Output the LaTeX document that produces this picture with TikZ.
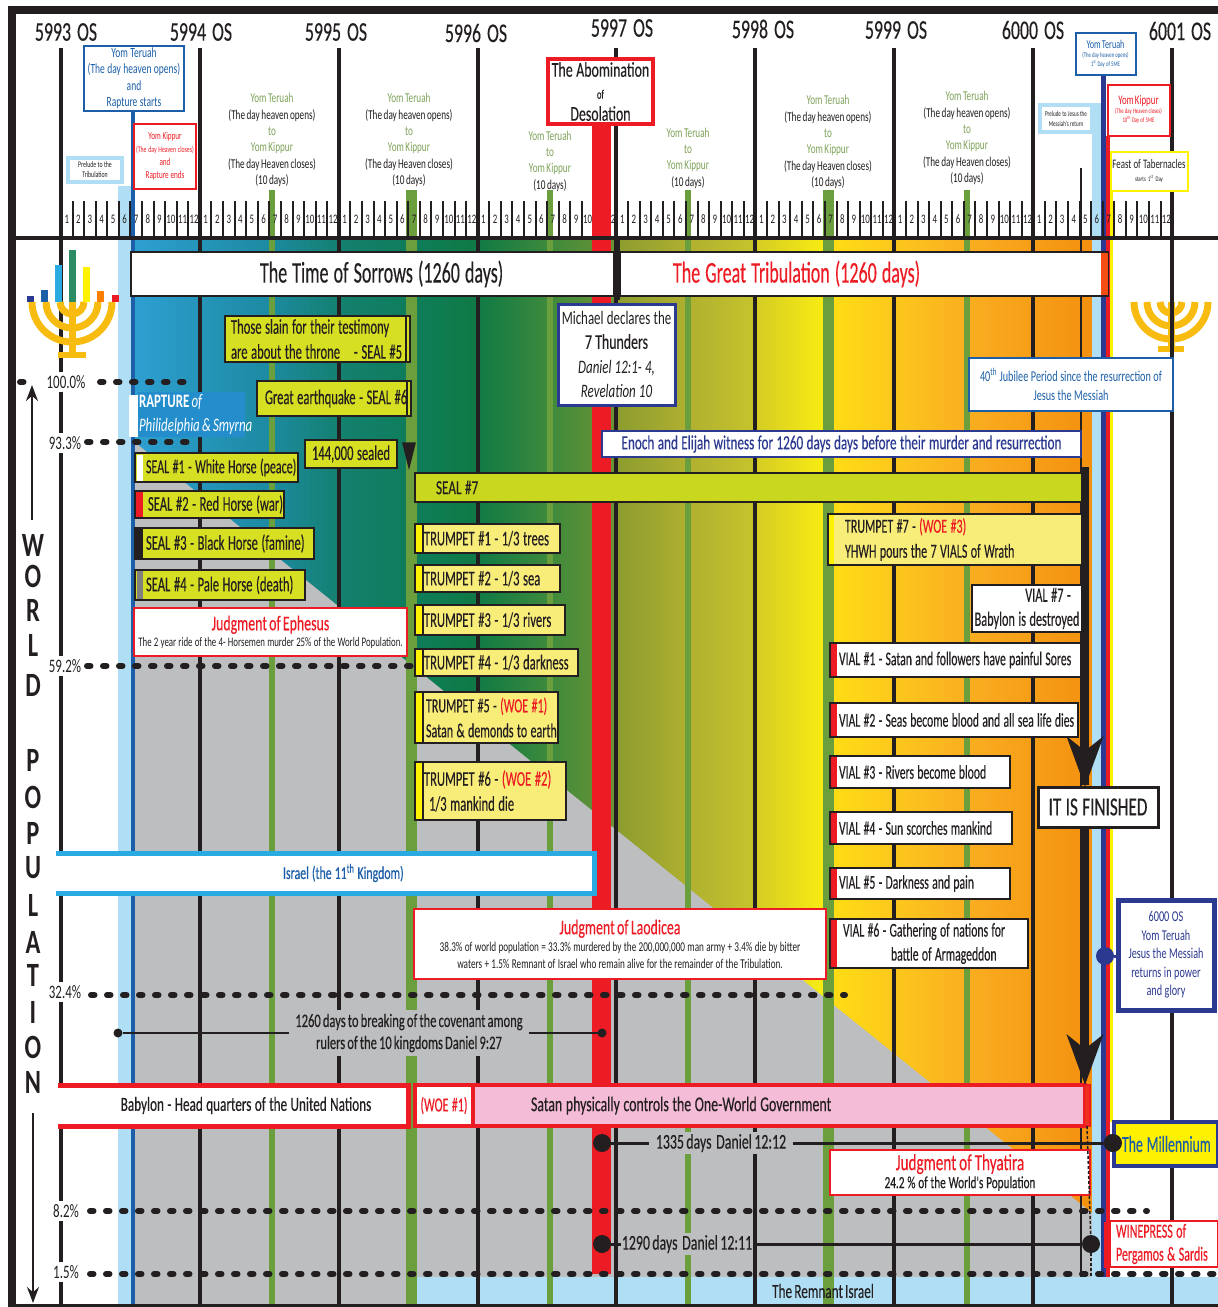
\documentclass[tikz,border=0pt]{standalone}
\usepackage{fontspec}
\setmainfont[FakeStretch=0.68,WordSpace=0.75]{Carlito}
\newfontfamily\midfont[FakeStretch=0.66,FakeBold=0.25,WordSpace=0.75]{Carlito}
\newfontfamily\narrowfont[FakeStretch=0.6,FakeBold=0.25,WordSpace=0.75]{Carlito}
\newfontfamily\letterfont[FakeStretch=0.72]{Carlito}
\usetikzlibrary{arrows.meta}
\newcommand{\fs}[2]{\fontsize{#1}{#2}\selectfont}
\newcommand{\ind}[1]{\hspace*{#1pt}}
\definecolor{wred}{HTML}{ED1C24}
\definecolor{wnavy}{HTML}{2B3990}
\definecolor{wblue}{HTML}{1C5FA8}
\definecolor{wsky}{HTML}{B0DFF5}
\definecolor{wcyan}{HTML}{29ABE2}
\definecolor{wgreen}{HTML}{6B9E3C}
\definecolor{wtext}{HTML}{7EA35A}
\definecolor{wgray}{HTML}{BCBEC0}
\definecolor{wseal}{HTML}{D7DF23}
\definecolor{wseven}{HTML}{C9D81F}
\definecolor{wpale}{HTML}{F9ED7A}
\definecolor{wpink}{HTML}{F4BCD6}
\definecolor{wyellow}{HTML}{FFF200}
\definecolor{wgold}{HTML}{F7BC0F}
\definecolor{wblack}{HTML}{231F20}
\tikzset{
  font={\fs{13.5}{16.3}},
  txt/.style={inner sep=0pt,outer sep=0pt,align=center,text=wblack},
  yearlabel/.style={txt,font=\midfont\fs{27}{27}},
  pctlabel/.style={txt,fill=white,inner xsep=1pt,inner ysep=3pt,font=\fs{19}{19}},
  letter/.style={txt,font=\letterfont\fs{34}{34}\bfseries},
  bx/.style 2 args={anchor=north west,minimum width=#1,minimum height=#2,text width=#1,
    inner xsep=0pt,inner ysep=0pt,outer sep=0pt,align=center,fill=white,text=wblack,
    execute at begin node={\spaceskip=0.17em\relax\xspaceskip=0.17em\relax}},
  sealbox/.style 2 args={bx={#1}{#2},draw=wblack,line width=2pt,fill=wseal,align=left,font=\narrowfont\fs{21}{23}},
  trumpetbox/.style 2 args={bx={#1}{#2},draw=wblack,line width=2pt,fill=wpale,align=left,font=\narrowfont\fs{21}{25}},
  vialbox/.style 2 args={bx={#1}{#2},draw=wblack,line width=2pt,align=left,font=\narrowfont\fs{19.5}{24}},
  redbox/.style 2 args={bx={#1}{#2},draw=wred,line width=2pt},
  navybox/.style 2 args={bx={#1}{#2},draw=wnavy,line width=3pt},
  popdots/.style={line width=6pt,line cap=round,dash pattern=on 3.5pt off 12.5pt,wblack},
  yearline/.style={line width=4pt,wblack},
  tickline/.style={line width=2pt,wblack},
  spot/.style={circle,fill=wblack,minimum size=#1,inner sep=0pt,outer sep=0pt},
}
\begin{document}
\begin{tikzpicture}[x=1pt,y=-1pt]
\useasboundingbox (0,0) rectangle (1218,1307);
\fill[white] (0,0) rectangle (1218,1307);
%% The coloured field, left to right
\foreach \xa/\xb/\ca/\cb in {132/272/2E9FD2/1C8AA0,272/339/1C8AA0/14806F,339/411/14806F/0E7D5A,
  411/477/0E7D5A/0F7A45,477/550/0F7A45/3E8A3C,550/616/3E8A3C/6E9434,616/688/8B9C2E/B0B030,
  688/755/B0B030/C6C42C,755/828/D4CC24/FBEE12,828/894/FFDE14/FCC81C,894/967/FCC81C/FAAE20,
  967/1092/FAAE20/F3900F}{
  \definecolor{cola}{HTML}{\ca}
  \definecolor{colb}{HTML}{\cb}
  \shade[left color=cola,right color=colb] (\xa,240) rectangle (\xb+0.5,1304);
}
%% The gray falls below the diagonal
\fill[wgray] (132,440) -- (1092,1213) -- (1092,1304) -- (132,1304) -- cycle;
\fill[wsky] (415,1277) rectangle (1218,1304);
%% Strips at both ends of the tribulation
\fill[wsky] (118,186) rectangle (131,1304);
\fill[wsky] (1092,103) rectangle (1102,1277);
\fill[wblue] (131,112) rectangle (135,1304);
\fill[wyellow] (1109,165) rectangle (1113,1122);
\fill[wnavy] (1101,75) rectangle (1106,1277);
\fill[wred] (1106,136) rectangle (1110,1277);
%% Green lines for the seventh month
\foreach \x/\w in {272/6,411/11,550/6,688/6,828/11,967/6}
  \draw[wgreen,line width=\w pt] (\x,190) -- (\x,1304);
%% The months
\foreach \y in {0,...,7}{
  \foreach \m in {1,...,11}
    \draw[tickline] (61+\y*138.9+\m*11.575,201) -- (61+\y*138.9+\m*11.575,238);
  \foreach \m in {1,...,12}
    \node[txt,font=\fs{13}{13}] at (61+\y*138.9+\m*11.575-5.8,219) {\m};
}
%% The years
\foreach \x in {61,199.5,339,477.5,616,755,894,1033,1172}
  \draw[yearline] (\x,48) -- (\x,1304);
\draw[line width=2pt,wblack] (1081,168) -- (1081,1277);
\fill[wred] (592,124) rectangle (611,1274);
\draw[line width=8pt,wblack] (12,1307) -- (12,10) -- (1218,10);
\draw[line width=3pt,wblack] (8,1305.5) -- (1218,1305.5);
\draw[line width=4pt,wblack] (8,238) -- (1218,238);
\node (yearthree) [yearlabel] at (66,32) {5993~~OS};
\node (yearfour) [yearlabel] at (201,32) {5994~~OS};
\node (yearfive) [yearlabel] at (336,32) {5995~~OS};
\node (yearsix) [yearlabel] at (476,33) {5996~~OS};
\node (yearseven) [yearlabel] at (622,28) {5997~~OS};
\node (yeareight) [yearlabel] at (763,29) {5998~~OS};
\node (yearnine) [yearlabel] at (896,30) {5999~~OS};
\node (yearsixk) [yearlabel] at (1033,30) {6000~~OS};
\node (yearone) [yearlabel] at (1180,31) {6001~~OS};
%% Feasts over each year
\node (feastfour) [txt] at (272,140) {\textcolor{wtext}{Yom Teruah}\\(The day heaven opens)\\\textcolor{wtext}{to}\\\textcolor{wtext}{Yom Kippur}\\(The day Heaven closes)\\(10 days)};
\node (feastfive) [txt] at (409,140) {\textcolor{wtext}{Yom Teruah}\\(The day heaven opens)\\\textcolor{wtext}{to}\\\textcolor{wtext}{Yom Kippur}\\(The day Heaven closes)\\(10 days)};
\node (feastsix) [txt] at (550,161) {\textcolor{wtext}{Yom Teruah}\\\textcolor{wtext}{to}\\\textcolor{wtext}{Yom Kippur}\\(10 days)};
\node (feastseven) [txt] at (688,158) {\textcolor{wtext}{Yom Teruah}\\\textcolor{wtext}{to}\\\textcolor{wtext}{Yom Kippur}\\(10 days)};
\node (feasteight) [txt] at (828,142) {\textcolor{wtext}{Yom Teruah}\\(The day heaven opens)\\\textcolor{wtext}{to}\\\textcolor{wtext}{Yom Kippur}\\(The day Heaven closes)\\(10 days)};
\node (feastnine) [txt] at (967,138) {\textcolor{wtext}{Yom Teruah}\\(The day heaven opens)\\\textcolor{wtext}{to}\\\textcolor{wtext}{Yom Kippur}\\(The day Heaven closes)\\(10 days)};
\node (terualeft) [bx={100}{65},draw=wblue,line width=2pt,text=wblue,font=\fs{14}{16.5}] at (84,46) {Yom Teruah\\(The day heaven opens)\\and\\Rapture starts};
\node (kippurleft) [redbox={62}{65},text=wred,font=\fs{10.5}{13}] at (134,124) {Yom Kippur\\{\fs{8.5}{13}(The day Heaven closes)}\\and\\Rapture ends};
\node (preludeleft) [bx={54}{24},draw=wsky,line width=4pt,font=\fs{8.5}{10}] at (68,158) {Prelude to the\\Tribulation};
\node (abomination) [redbox={105}{65},line width=4pt,font=\midfont\fs{21}{22}] at (548,59) {The Abomination\\{\fs{13}{16}of}\\Desolation};
\node (teruaright) [bx={60}{42},draw=wblue,line width=2pt,text=wblue,font=\fs{7}{9}] at (1075.5,32.5) {{\fs{12}{12}Yom Teruah}\\(The day heaven opens)\\1\textsuperscript{st} Day of 5ME};
\node (kippurright) [redbox={62}{51},text=wred,font=\fs{7}{9}] at (1107.5,84.5) {{\fs{13}{13}Yom Kippur}\\(The day Heaven closes)\\10\textsuperscript{th} Day of 5ME\\[10pt]};
\node (preluderight) [bx={52}{27},draw=wsky,line width=4pt,font=\fs{7.5}{10}] at (1040,105) {Prelude to Jesus the\\Messiah's return};
\node (tabernacles) [bx={77}{39},draw=wyellow,line width=2pt,font=\fs{13}{13}] at (1110.5,151.5) {Feast of Tabernacles\\{\fs{7}{10}starts 1\textsuperscript{st} Day}};
%% The two halves
\node (sorrows) [bx={483}{44},draw=wblack,line width=2.5pt,align=left,font=\narrowfont\fs{30}{30}] at (131,252) {\ind{129}The Time of Sorrows (1260 days)};
\node (tribulation) [bx={488}{44},draw=wblack,line width=2.5pt,font=\narrowfont\fs{30}{30},text=wred,align=left] at (620,252) {\ind{53}The Great Tribulation (1260 days)};
\fill[wred!50!orange] (1101,253) rectangle (1108,295);
\fill[wblack] (614,240) rectangle (620,300);
%% Menorahs
\foreach \x/\c/\top in {30/wnavy/296,44/wblue/290,58/wcyan/265,72/wgreen!40!teal/250,86/wyellow/267,100/orange/291,115/wred/295}
  \fill[\c] (\x-3.5,\top) rectangle (\x+3.5,302);
\foreach \r in {12,26,40}
  \draw[wgold,line width=7pt] (72-\r,302) arc[start angle=180,end angle=0,radius=\r];
\draw[wgold,line width=7pt] (72,302) -- (72,355);
\draw[wgold,line width=6pt] (58,355) -- (86,355);
\foreach \r in {11,24,37}
  \draw[wgold,line width=7pt] (1171-\r,302) arc[start angle=180,end angle=0,radius=\r];
\draw[wgold,line width=7pt] (1171,302) -- (1171,348);
\draw[wgold,line width=6pt] (1158,349) -- (1184,349);
\draw[yearline] (1172,290) -- (1172,360);
%% Population levels
\node (pcta) [pctlabel] at (66,382) {100.0\%};
\node (pctb) [pctlabel] at (65,443) {93.3\%};
\node (pctc) [pctlabel] at (65,666) {59.2\%};
\node (pctd) [pctlabel] at (65,992) {32.4\%};
\node (pcte) [pctlabel] at (66,1211) {8.2\%};
\node (pctf) [pctlabel] at (66,1272) {1.5\%};
\fill[wblue!40!wcyan] (138,392) rectangle (245,437);
\fill[white] (129,395) rectangle (138,437);
\coordinate (dotsa) at (186,382);
\coordinate (dotsb) at (190,442);
\coordinate (dotsc) at (413,666);
\coordinate (dotsd) at (845,995);
\coordinate (dotse) at (1147,1211);
\coordinate (dotsf) at (1218,1274);
\draw[popdots] (100,382) -- (dotsa);
\draw[popdots] (20,382) -- (34,382);
\draw[popdots] (87,442) -- (dotsb);
\draw[popdots] (87,666) -- (dotsc);
\draw[popdots] (91,995) -- (dotsd);
\draw[popdots] (90,1211) -- (dotse);
\draw[popdots] (90,1274) -- (dotsf);
%% World population
\foreach \t/\y in {W/545,O/576,R/610,L/645,D/685,P/760,O/797,P/833,U/868,L/905,A/942,T/975,I/1012,O/1047,N/1082}
  \node[letter] at (33,\y) {\t};
\coordinate (uplow) at (32,520);
\coordinate (uptop) at (32,385);
\coordinate (downtop) at (33,1113);
\coordinate (downlow) at (33,1303);
\draw[line width=2pt,wblack,-{Stealth[length=16pt,width=12pt]}] (uplow) -- (uptop);
\draw[line width=2pt,wblack,-{Stealth[length=16pt,width=12pt]}] (downtop) -- (downlow);
%% Rapture
\node (rapture) [txt,anchor=west,text=white,align=left,font=\fs{19}{24}] at (139,415) {\textbf{RAPTURE} \textit{of}\\\textit{Philidelphia \& Smyrna}};
%% Seals
\node (slain) [sealbox={185}{46},font=\narrowfont\fs{21}{25}] at (225,316) {\ind{6}Those slain for their testimony\\\ind{6}are about the throne\ind{14}- SEAL \#5};
\draw[wblack,line width=1.5pt] (406,316) -- (406,362);
\node (earthquake) [sealbox={154}{35}] at (257,381) {\ind{8}Great earthquake - SEAL \#6};
\draw[wblack,line width=1.5pt] (407,381) -- (407,416);
\node (sealed) [sealbox={92}{28},align=center] at (305,440) {144,000 sealed};
\draw[fill=wseal,wblack,line width=1.5pt] (403,443) -- (415,443) -- (409,467) -- cycle;
\node (sealone) [sealbox={163}{29},font=\narrowfont\fs{20}{23}] at (135,453) {\ind{11}SEAL \#1 - White Horse (peace)};
\fill[white] (137,455) rectangle (143,481);
\node (sealtwo) [sealbox={149}{27}] at (135,491) {\ind{13}SEAL \#2 - Red Horse (war)};
\fill[wred] (136,492) rectangle (143,517);
\node (sealthree) [sealbox={179}{31}] at (135,528) {\ind{11}SEAL \#3 - Black Horse (famine)};
\fill[wblack] (136,529) rectangle (143,558);
\node (sealfour) [sealbox={170}{30}] at (135,570) {\ind{11}SEAL \#4 - Pale Horse (death)};
\fill[gray] (137,571) rectangle (143,599);
\node (ephesus) [redbox={273}{48},font=\fs{13}{16}] at (134,608) {{\midfont\fs{21}{26}\textcolor{wred}{Judgment of Ephesus}}\\The 2 year ride of the 4- Horsemen murder 25\% of the World Population.};
\node (sealseven) [bx={668}{29},draw=wblack,line width=2pt,fill=wseven,align=left,font=\midfont\fs{20}{20}] at (415,473) {\ind{21}SEAL \#7};
\node (michael) [navybox={117}{101},font=\fs{19}{24.5}] at (558,304) {Michael declares the\\{\midfont\fs{21}{24}7 Thunders}\\\textit{Daniel 12:1- 4,}\\\textit{Revelation 10}};
\node (enoch) [bx={479}{26},draw=wnavy,line width=2pt,text=wnavy,font=\midfont\fs{20}{20}] at (602,431) {Enoch and Elijah witness for 1260 days days before their murder and resurrection};
\node (jubilee) [bx={204}{53},draw=wblue,line width=2pt,text=wblue,font=\fs{15}{19}] at (969,358) {40\textsuperscript{th} Jubilee Period since the resurrection of\\Jesus the Messiah};
%% Trumpets
\node (trumpa) [trumpetbox={145}{29}] at (415,524) {\ind{9}TRUMPET \#1 - 1/3 trees};
\node (trumpb) [trumpetbox={145}{27}] at (415,565) {\ind{9}TRUMPET \#2 - 1/3 sea};
\node (trumpc) [trumpetbox={150}{30}] at (415,605) {\ind{9}TRUMPET \#3 - 1/3 rivers};
\node (trumpd) [trumpetbox={163}{27}] at (415,649) {\ind{9}TRUMPET \#4 - 1/3 darkness};
\node (trumpe) [trumpetbox={143}{51},font=\narrowfont\fs{20}{25}] at (415,692) {\ind{11}TRUMPET \#5 - \textcolor{wred}{(WOE \#1)}\\\ind{11}Satan \& demonds to earth};
\node (trumpf) [trumpetbox={151}{58}] at (415,762) {\ind{9}TRUMPET \#6 -\ \textcolor{wred}{(WOE \#2)}\\\ind{14}1/3 mankind die};
\foreach \y/\h in {525/27,566/25,606/28,650/25,693/49,763/56}
  \fill[wyellow] (416,\y) rectangle (422,\y+\h);
\foreach \y/\h in {524/29,565/27,605/30,649/27,692/51,762/58}
  \draw[wblack,line width=1.5pt] (423,\y) -- (423,\y+\h);
\node (trumpg) [trumpetbox={254}{51},font=\narrowfont\fs{20}{25}] at (828,514) {\ind{17}TRUMPET \#7 - \textcolor{wred}{(WOE \#3)}\\\ind{17}YHWH pours the 7 VIALS of Wrath};
\fill[wyellow] (829,515) rectangle (834,564);
%% Vials
\node (vialg) [vialbox={110}{47},align=center,font=\narrowfont\fs{20.5}{24}] at (972,585) {\ind{42}VIAL \#7 -\\Babylon is destroyed};
\fill[wred] (1082,586) rectangle (1086,631);
\node (viala) [vialbox={251}{34}] at (830,643) {\ind{9}VIAL \#1 - Satan and followers have painful Sores};
\node (vialb) [vialbox={248}{34}] at (830,703) {\ind{9}VIAL \#2 - Seas become blood and all sea life dies};
\node (vialc) [vialbox={180}{32}] at (830,756) {\ind{9}VIAL \#3 - Rivers become blood};
\node (viald) [vialbox={182}{32}] at (830,812) {\ind{9}VIAL \#4 - Sun scorches mankind};
\node (viale) [vialbox={180}{31}] at (830,868) {\ind{9}VIAL \#5 - Darkness and pain};
\node (vialf) [vialbox={198}{49}] at (830,919) {\ind{13}VIAL \#6 - Gathering of nations for\\\ind{61}battle of Armageddon};
\foreach \y/\h in {643/34,703/34,756/32,812/32,868/31,919/49}
  \draw[wred,line width=6.5pt] (834,\y+1) -- (834,\y+\h-1);
%% Judgments and kingdoms
\node (israel) [bx={538}{40},text=wblue,fill=white,align=left,font=\midfont\fs{18}{18}] at (56,853) {\ind{227}Israel (the 11\textsuperscript{th} Kingdom)};
\draw[wcyan,line width=5pt] (israel.north west) -- (israel.north east) -- (israel.south east) -- (israel.south west);
\node (laodicea) [redbox={412}{70},font=\fs{13.5}{17}] at (414,909) {{\midfont\fs{21}{24}\textcolor{wred}{Judgment of Laodicea}}\\38.3\% of world population = 33.3\% murdered by the 200,000,000 man army + 3.4\% die by bitter\\waters + 1.5\% Remnant of Israel who remain alive for the remainder of the Tribulation.};
\node (babylon) [bx={350}{41},font=\midfont\fs{20}{20}] at (58,1085) {\ind{26}Babylon - Head quarters of the United Nations};
\draw[wred,line width=5pt] (babylon.north west) -- (babylon.north east) -- (babylon.south east) -- (babylon.south west);
\node (satan) [bx={612}{41},draw=wred,line width=4pt,fill=wpink,align=left,font=\midfont\fs{21}{21}] at (473,1085) {\ind{58}Satan physically controls the One-World Government};
\node (woe) [bx={58}{41},draw=wred,line width=4pt,text=wred,font=\narrowfont\fs{20}{20}] at (415,1085) {(WOE \#1)};
\draw[wred,line width=3pt,dash pattern=on 3pt off 2pt] (woe.north east) -- (woe.south east);
\node (satanend) [bx={6}{41},draw=wred,line width=1.5pt,fill=wred!80!orange] at (1084,1085) {};
\node (thyatira) [redbox={260}{45},font=\midfont\fs{17}{18}] at (830,1150) {{\fs{23}{25}\textcolor{wred}{Judgment of Thyatira}}\\24.2 \% of the World's Population};
\node (winepress) [redbox={108}{46},text=wred,font=\narrowfont\fs{20}{23},align=left] at (1110,1221) {\ind{6}WINEPRESS of\\\ind{6}Pergamos \& Sardis};
\fill[wred] (1104,1222) rectangle (1108,1268);
\node (returns) [navybox={96}{110},line width=5pt,text=wnavy,font=\fs{15}{18.5}] at (1118,900) {6000 OS\\Yom Teruah\\Jesus the Messiah\\returns in power\\and glory};
\node (returnspot) [spot=18pt,fill=wnavy] at (1105,956) {};
\draw[wnavy,line width=3pt] (returnspot) -- (returns.west |- returnspot);
%% Spans of days
\node (lastthunder) [txt,fill=wgray,inner xsep=6pt,inner ysep=4pt,font=\midfont\fs{19}{22}] at (409,1033) {1260 days to breaking of the covenant among\\rulers of the 10 kingdoms Daniel 9:27};
\node (spotcovleft) [spot=9pt] at (118,1033) {};
\node (spotcovright) [spot=9pt] at (602,1033) {};
\draw[line width=1.5pt,wblack] (spotcovleft) -- (lastthunder);
\draw[line width=1.5pt,wblack] (lastthunder) -- (spotcovright);
\node (blessed) [txt,fill=wgray,inner xsep=7pt,inner ysep=2pt,font=\midfont\fs{21}{21}] at (721,1143) {1335 days\ \ Daniel 12:12};
\node (spotblessa) [spot=18pt] at (602,1143) {};
\node (spotblessb) [spot=18pt] at (1113,1143) {};
\draw[line width=3pt,wblack] (spotblessa) -- (blessed);
\draw[line width=3pt,wblack] (blessed) -- (spotblessb);
%% The millennium lies over its dot
\node (millennium) [bx={104}{44},draw=wnavy,line width=4pt,fill=wyellow,text=wblue,align=left,font=\narrowfont\fs{23}{23}] at (1114,1122) {\ind{8}The Millennium};
\node (spotblessb) [spot=18pt] at (1113,1143) {};
\node (abomspan) [txt,fill=wgray,inner xsep=1pt,inner ysep=2pt,font=\midfont\fs{21}{21}] at (687,1244) {1290 days\ \ Daniel 12:11};
\node (spotaboma) [spot=18pt] at (602,1244) {};
\node (spotabomb) [spot=18pt] at (1091,1244) {};
\draw[line width=3pt,wblack] (spotaboma) -- (abomspan);
\draw[line width=3pt,wblack] (abomspan) -- (spotabomb);
\draw[line width=1.5pt,wblack,densely dashed] (satanend.south) -- (spotabomb);
\draw[line width=1.5pt,wblack,densely dashed] (spotabomb) -- (1091,1276);
\node (remnant) [txt,font=\midfont\fs{20}{20}] at (823,1291) {The Remnant Israel};
%% It is finished
\coordinate (sevenend) at (1085,467);
\node (finished) [bx={120}{40},draw=wblack,line width=3pt,font=\midfont\fs{26}{26}] at (1038,787) {IT IS FINISHED};
\draw[line width=8pt,wblack] (sevenend) -- (1085,785);
\draw[line width=8pt,wblack,-{Stealth[length=50pt,width=36pt,inset=14pt]}] (1085,735) -- (finished.north -| sevenend);
\draw[line width=8pt,wblack,-{Stealth[length=50pt,width=36pt,inset=14pt]}] (finished.south -| sevenend) -- (satanend.north -| sevenend);
\end{tikzpicture}
\end{document}
